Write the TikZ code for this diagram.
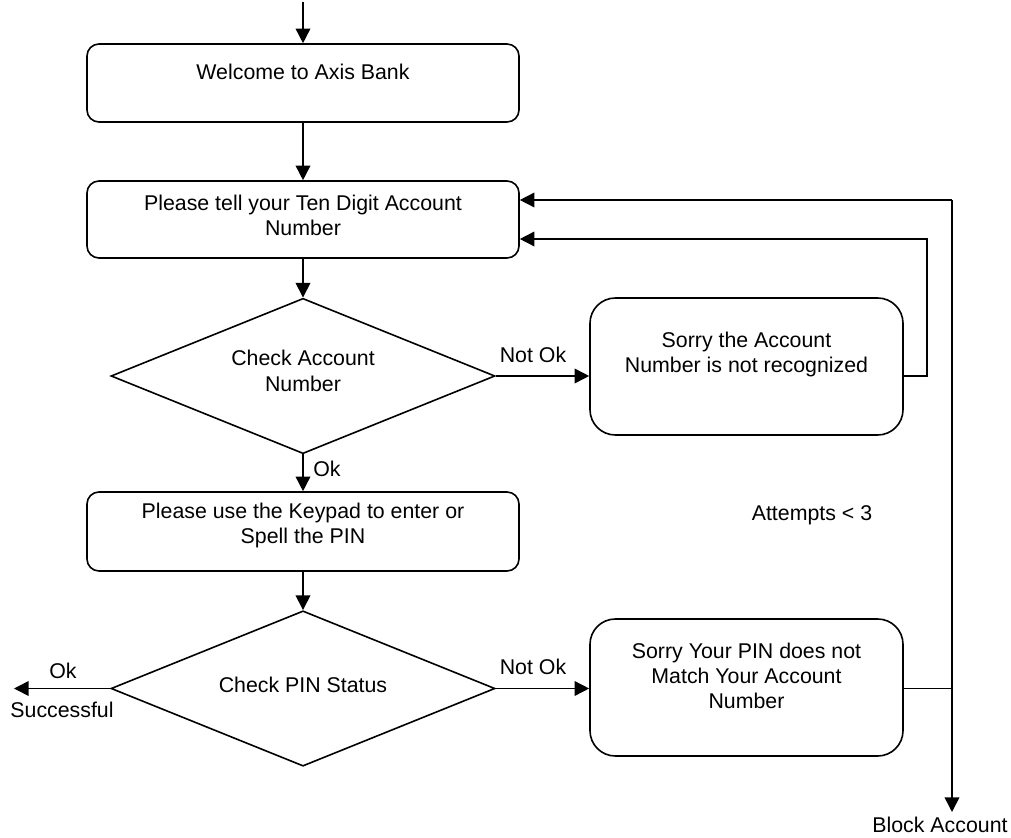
\documentclass[tikz,border=0pt]{standalone}
\usepackage{fontspec}
\setmainfont{Liberation Sans}
\usetikzlibrary{shapes.geometric,arrows.meta}
\begin{document}
\begin{tikzpicture}[x=0.75pt,y=-0.75pt,
  every node/.style={font=\fontsize{16}{19}\selectfont, inner sep=0pt},
  mainbox/.style={draw, line width=1.2pt, rounded corners=9pt, minimum width=324pt},
  sidebox/.style={draw, line width=1.2pt, rounded corners=19pt, minimum width=234.75pt, minimum height=102.75pt},
  decision/.style={draw, line width=1.2pt, diamond, minimum width=288pt, minimum height=116.5pt, aspect=2.47},
  txt/.style={align=center},
  flow/.style={line width=1.2pt, -{Triangle[length=11pt,width=11pt]}},
  plain/.style={line width=1.2pt}]
\useasboundingbox (0,0) rectangle (1011,838);

% shapes
\node[mainbox, minimum height=58.5pt] (b1) at (303,83) {};
\node[mainbox, minimum height=57.75pt] (b2) at (303,219.5) {};
\node[decision] (d1) at (303,376) {};
\node[sidebox] (b3) at (746.5,366.5) {};
\node[mainbox, minimum height=59.25pt] (b4) at (303,531.5) {};
\node[decision] (d2) at (303,688.5) {};
\node[sidebox] (b5) at (746.5,687.5) {};

% texts
\node[txt] (t1) at (303,72) {Welcome to Axis Bank};
\node[txt] (t2) at (303,215.5) {Please tell your Ten Digit Account\\Number};
\node[txt] (dt1) at (303,371) {Check Account\\Number};
\node[txt] (t3) at (746.5,354.5) {Sorry the Account\\Number is not recognized};
\node[txt] (t4) at (303,525.5) {Please use the Keypad to enter or\\Spell the PIN};
\node[txt] (dt2) at (303,685) {Check PIN Status};
\node[txt] (t5) at (746.5,676) {Sorry Your PIN does not\\Match Your Account\\Number};

% labels
\node (notok1) at (533,355) {Not Ok};
\node (ok1) at (327,469) {Ok};
\node (att) at (812,515) {Attempts < 3};
\node (notok2) at (533,667) {Not Ok};
\node (ok2) at (63,671) {Ok};
\node (succ) at (62,710) {Successful};
\node (block) at (940,825) {Block Account};

% coordinates
\coordinate (start) at (303,2);
\coordinate (c1) at (927,376);
\coordinate (c2) at (927,239);
\coordinate (v1) at (952,200);
\coordinate (v2) at (952,812);
\coordinate (s) at (14,688.5);

% connectors
\draw[flow] (start) -- (b1.north);
\draw[flow] (b1.south) -- (b2.north);
\draw[flow] (b2.south) -- (d1.north);
\draw[flow] (d1.east) -- (d1.east -| b3.west);
\draw[flow] (d1.east -| b3.east) -- (c1) -- (c2) -- (c2 -| b2.east);
\draw[flow] (d1.south) -- (b4.north);
\draw[flow] (b4.south) -- (d2.north);
\draw[flow] (d2.west) -- (s);
\draw[flow] (d2.east) -- (d2.east -| b5.west);
\draw[plain] (d2.east -| b5.east) -- (d2.east -| v1);
\draw[flow] (v1) -- (v1 -| b2.east);
\draw[flow] (v1) -- (v2);
\end{tikzpicture}
\end{document}
